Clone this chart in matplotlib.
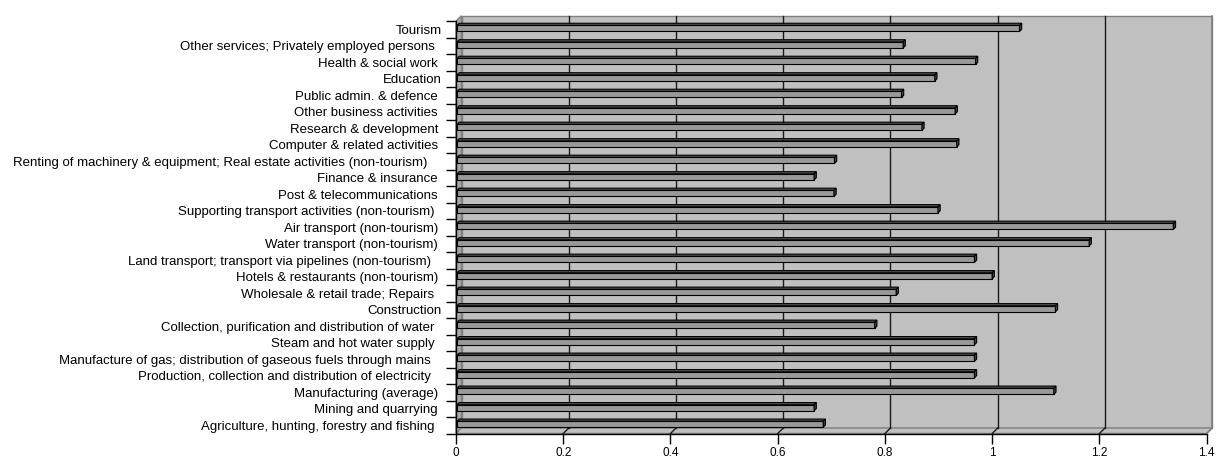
import matplotlib
matplotlib.use("Agg")
import matplotlib.pyplot as plt
from matplotlib.patches import Polygon
import numpy as np

plt.rcParams['font.family'] = ['Liberation Sans', 'DejaVu Sans']

# categories listed top to bottom as in the chart (trailing spaces as in source labels)
categories = [
    "Tourism",
    "Other services; Privately employed persons  ",
    "Health & social work ",
    "Education",
    "Public admin. & defence ",
    "Other business activities ",
    "Research & development ",
    "Computer & related activities ",
    "Renting of machinery & equipment; Real estate activities (non-tourism)    ",
    "Finance & insurance ",
    "Post & telecommunications ",
    "Supporting transport activities (non-tourism)  ",
    "Air transport (non-tourism) ",
    "Water transport (non-tourism) ",
    "Land transport; transport via pipelines (non-tourism)   ",
    "Hotels & restaurants (non-tourism) ",
    "Wholesale & retail trade; Repairs  ",
    "Construction",
    "Collection, purification and distribution of water  ",
    "Steam and hot water supply  ",
    "Manufacture of gas; distribution of gaseous fuels through mains   ",
    "Production, collection and distribution of electricity   ",
    "Manufacturing (average) ",
    "Mining and quarrying ",
    "Agriculture, hunting, forestry and fishing  ",
]
values = [1.049, 0.832, 0.967, 0.891, 0.829, 0.929, 0.867, 0.932,
          0.704, 0.666, 0.703, 0.897, 1.336, 1.179, 0.965, 0.998,
          0.819, 1.116, 0.779, 0.965, 0.965, 0.965, 1.113, 0.666, 0.683]
xticks = [0, 0.2, 0.4, 0.6, 0.8, 1.0, 1.2, 1.4]
xticklabels = ["0", "0.2", "0.4", "0.6", "0.8", "1", "1.2", "1.4"]

W, H = 1216, 458
fig = plt.figure(figsize=(W / 100, H / 100), dpi=100)
fig.patch.set_facecolor("white")
ax = fig.add_axes([456 / W, (H - 433.5) / H, (1206.7 - 456) / W, (433.5 - 21.2) / H])
ax.patch.set_visible(False)

n = len(categories)
pos = np.arange(n)[::-1]  # first category at the top
xmax = 1.4
ax.set_xlim(0, xmax)
ax.set_ylim(-0.5, n - 0.5)

# pixel -> data conversion for the 3D depth effect
ppx = ax.bbox.width / xmax
ppy = ax.bbox.height / n
D = 5.5        # wall depth in px
dxD, dyD = D / ppx, D / ppy
ylo, yhi = -0.5, n - 0.5

wall_face = "#c0c0c0"
wall_edge = "#808080"

# back wall, left wall, floor
ax.add_patch(Polygon([(dxD, ylo + dyD), (xmax + dxD, ylo + dyD), (xmax + dxD, yhi + dyD), (dxD, yhi + dyD)],
                     closed=True, fc=wall_face, ec=wall_edge, lw=1, zorder=0, clip_on=False))
ax.add_patch(Polygon([(0, ylo), (dxD, ylo + dyD), (dxD, yhi + dyD), (0, yhi)],
                     closed=True, fc="#a8a8a8", ec=wall_edge, lw=1, zorder=0.2, clip_on=False))
ax.add_patch(Polygon([(0, ylo), (xmax, ylo), (xmax + dxD, ylo + dyD), (dxD, ylo + dyD)],
                     closed=True, fc=wall_face, ec=wall_edge, lw=1, zorder=0.3, clip_on=False))

# gridlines on back wall and floor
for v in xticks[1:-1]:
    ax.plot([v + dxD, v + dxD], [ylo + dyD, yhi + dyD], color="#1a1a1a", lw=1, zorder=0.5, clip_on=False)
    ax.plot([v, v + dxD], [ylo, ylo + dyD], color="#1a1a1a", lw=1, zorder=0.5, clip_on=False)
ax.plot([xmax + dxD, xmax + dxD], [ylo + dyD, yhi + dyD], color=wall_edge, lw=1.2, zorder=0.5, clip_on=False)
ax.plot([xmax, xmax + dxD], [ylo, ylo + dyD], color=wall_edge, lw=1, zorder=0.5, clip_on=False)

# bars: front face + top face + end cap
df, db = 1.0, 3.2   # front / back depth of bar in px
h = 6.0 / ppy
fx, fy = df / ppx, df / ppy
bx, by = db / ppx, db / ppy
ax.barh(pos + fy, values, left=fx, height=h, color="#999999", edgecolor="black", lw=0.8, zorder=3)
for y, v in zip(pos, values):
    yt = y + fy + h / 2
    yb = y + fy - h / 2
    ax.add_patch(Polygon([(fx, yt), (fx + v, yt), (bx + v, yt + by - fy), (bx, yt + by - fy)],
                         closed=True, fc="#555555", ec="black", lw=0.8, zorder=2.9, clip_on=False))
    ax.add_patch(Polygon([(fx + v, yb), (fx + v, yt), (bx + v, yt + by - fy), (bx + v, yb + by - fy)],
                         closed=True, fc="#444444", ec="black", lw=0.8, zorder=3.1, clip_on=False))

# axes
for s in ["top", "right"]:
    ax.spines[s].set_visible(False)
for s in ["left", "bottom"]:
    ax.spines[s].set_color("black")
    ax.spines[s].set_linewidth(1)
    ax.spines[s].set_zorder(4)

ax.set_xticks(xticks)
ax.set_xticklabels(xticklabels, fontsize=8.5)
ax.tick_params(axis="x", direction="out", length=7, width=1, pad=3, color="black")

ax.set_yticks(np.arange(n + 1) - 0.5)
ax.set_yticklabels([])
ax.tick_params(axis="y", which="major", direction="out", length=7.2, width=1, color="black")
ax.set_yticks(pos, minor=True)
ax.set_yticklabels(categories, minor=True, fontsize=9.5)
ax.tick_params(axis="y", which="minor", length=0, pad=10.3)

fig.savefig("out.png", dpi=100)
